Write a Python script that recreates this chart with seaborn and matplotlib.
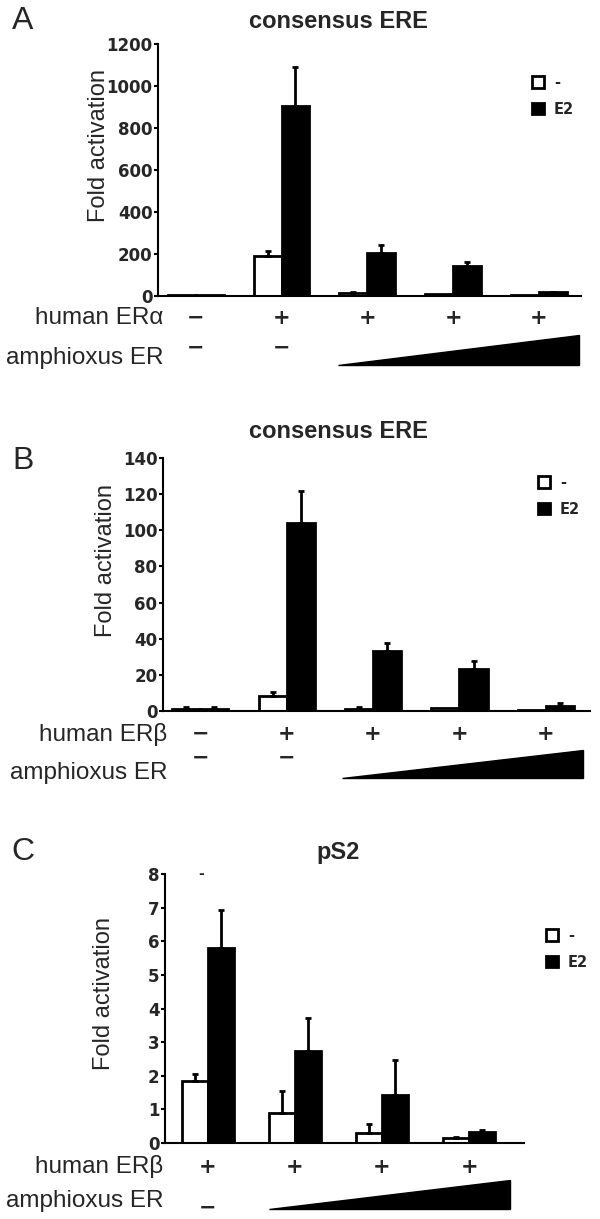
import matplotlib

matplotlib.use("Agg")
import matplotlib.pyplot as plt
import numpy as np
import pandas as pd
import seaborn as sns
from matplotlib.patches import Patch, Polygon
from matplotlib.transforms import blended_transform_factory

# ---- data -----------------------------------------------------------------
treatments = ["-", "E2"]

# A: consensus ERE, human ERalpha
a_groups = ["g1", "g2", "g3", "g4", "g5"]
a_ctrl = [3, 191, 16, 11, 5]
a_e2 = [3, 903, 206, 141, 17]
a_ctrl_err = [0, 24, 5, 0, 0]
a_e2_err = [0, 186, 39, 22, 3]
a_human = ["−", "+", "+", "+", "+"]
a_yticks = [0, 200, 400, 600, 800, 1000, 1200]

# B: consensus ERE, human ERbeta
b_groups = ["g1", "g2", "g3", "g4", "g5"]
b_ctrl = [1.3, 8.5, 0.9, 1.5, 0.5]
b_e2 = [1.3, 104, 33, 23, 3.0]
b_ctrl_err = [0.7, 2.0, 1.1, 0, 0]
b_e2_err = [0.7, 18, 4.6, 4.8, 1.3]
b_human = ["−", "+", "+", "+", "+"]
b_yticks = [0, 20, 40, 60, 80, 100, 120, 140]

# C: pS2, human ERbeta
c_groups = ["g1", "g2", "g3", "g4"]
c_ctrl = [1.83, 0.90, 0.30, 0.14]
c_e2 = [5.80, 2.75, 1.44, 0.34]
c_ctrl_err = [0.21, 0.64, 0.27, 0.04]
c_e2_err = [1.12, 0.96, 1.04, 0.06]
c_human = ["+", "+", "+", "+"]
c_yticks = [0, 1, 2, 3, 4, 5, 6, 7, 8]

# ---- figure ---------------------------------------------------------------
W, H = 600, 1219
sns.set_style("ticks")
plt.rcParams["font.family"] = ["Liberation Sans", "DejaVu Sans"]

fig = plt.figure(figsize=(W / 100, H / 100), dpi=100)


def fx(px):
    return px / W


def fy(px):
    return 1 - px / H


def draw_panel(letter, title, groups, ctrl, e2, ctrl_err, e2_err, yticks,
               box, xlim, width, human, human_label, amphi_minus, wedge, rows,
               title_y, letter_y, ylabel_xy, legend_xy):
    left, top, right, bottom = box
    ax = fig.add_axes([fx(left), fy(bottom), fx(right - left), (bottom - top) / H])

    n = len(groups)
    df = pd.DataFrame({
        "group": groups * 2,
        "treatment": ["-"] * n + ["E2"] * n,
        "value": list(ctrl) + list(e2),
    })
    sns.barplot(data=df, x="group", y="value", hue="treatment", order=groups,
                hue_order=treatments, palette={"-": "white", "E2": "black"},
                edgecolor="black", linewidth=2, width=width, errorbar=None,
                legend=False, ax=ax)

    # one-sided error bars on top of each bar
    for cont, errs in zip(ax.containers, [ctrl_err, e2_err]):
        for bar, err in zip(cont, errs):
            if err <= 0:
                continue
            x = bar.get_x() + bar.get_width() / 2
            y = bar.get_height()
            ax.errorbar(x, y, yerr=[[0], [err]], fmt="none", ecolor="black",
                        elinewidth=2, capsize=2.5, capthick=2, zorder=1)

    ax.set_xlim(*xlim)
    ax.set_ylim(yticks[0], yticks[-1])
    ax.set_yticks(yticks)
    ax.set_yticklabels([str(t) for t in yticks], fontweight="bold",
                       family="DejaVu Sans", fontsize=12)
    ax.tick_params(axis="y", length=3, width=1.5, pad=1, color="black")
    ax.set_xticks([])
    ax.set_xlabel("")
    ax.set_ylabel("")
    sns.despine(ax=ax)
    for side in ["left", "bottom"]:
        ax.spines[side].set_linewidth(1.5)
        ax.spines[side].set_color("black")

    trans = blended_transform_factory(ax.transData, fig.transFigure)
    human_y, amphi_label_y, amphi_minus_y, label_right = rows

    # sign rows under the axis
    for i, s in enumerate(human):
        ax.text(i, fy(human_y), s, transform=trans, ha="center", va="center",
                fontsize=15, fontweight="bold", family="DejaVu Sans")
    for i in amphi_minus:
        ax.text(i, fy(amphi_minus_y), "−", transform=trans, ha="center",
                va="center", fontsize=15, fontweight="bold", family="DejaVu Sans")
    fig.text(fx(label_right), fy(human_y), human_label, ha="right",
             va="center", fontsize=17.5)
    fig.text(fx(label_right), fy(amphi_label_y), "amphioxus ER", ha="right",
             va="center", fontsize=17.5)

    # increasing amphioxus ER wedge
    x0, x1, base, peak = wedge
    ax.add_patch(Polygon([(x0, fy(base)), (x1, fy(base)), (x1, fy(peak))],
                         closed=True, transform=trans, facecolor="black",
                         edgecolor="black", clip_on=False))

    fig.text(fx(338), fy(title_y), title, ha="center", va="center",
             fontsize=17, fontweight="bold")
    fig.text(fx(23), fy(letter_y), letter, ha="center", va="center",
             fontsize=23)
    fig.text(fx(ylabel_xy[0]), fy(ylabel_xy[1]), "Fold activation",
             rotation=90, ha="center", va="center", fontsize=17)

    handles = [Patch(facecolor="white", edgecolor="black", linewidth=2),
               Patch(facecolor="black", edgecolor="black", linewidth=2)]
    ax.legend(handles, treatments, loc="upper left",
              bbox_to_anchor=(fx(legend_xy[0]), fy(legend_xy[1])),
              bbox_transform=fig.transFigure, frameon=False,
              handlelength=0.8, handleheight=0.8, handletextpad=0.7,
              labelspacing=0.8, borderpad=0, borderaxespad=0,
              prop={"family": "DejaVu Sans", "weight": "bold", "size": 10.5})
    return ax


draw_panel("A", "consensus ERE", a_groups, a_ctrl, a_e2, a_ctrl_err, a_e2_err,
           a_yticks, box=(158, 44, 581, 296), xlim=(-0.44, 4.49), width=0.65,
           human=a_human, human_label="human ERα", amphi_minus=[0, 1],
           wedge=(1.66, 4.47, 365, 335), rows=(318, 358, 348, 163),
           title_y=21, letter_y=21, ylabel_xy=(99, 146), legend_xy=(532, 75))

draw_panel("B", "consensus ERE", b_groups, b_ctrl, b_e2, b_ctrl_err, b_e2_err,
           b_yticks, box=(163, 458, 590, 711), xlim=(-0.43, 4.51), width=0.65,
           human=b_human, human_label="human ERβ", amphi_minus=[0, 1],
           wedge=(1.64, 4.43, 778, 750), rows=(734, 773, 758, 167),
           title_y=432, letter_y=461, ylabel_xy=(106, 561), legend_xy=(538, 475))

draw_panel("C", "pS2", c_groups, c_ctrl, c_e2, c_ctrl_err, c_e2_err,
           c_yticks, box=(165, 874, 524, 1143), xlim=(-0.49, 3.63), width=0.6,
           human=c_human, human_label="human ERβ", amphi_minus=[0],
           wedge=(0.70, 3.47, 1209, 1180), rows=(1167, 1201, 1208, 163),
           title_y=853, letter_y=852, ylabel_xy=(104, 993), legend_xy=(546, 928))

# stray dash above the first pS2 group in the original figure
fig.text(fx(201), fy(874), "-", ha="center", va="center", fontsize=10,
         fontweight="bold", family="DejaVu Sans")

fig.savefig("out.png", dpi=100)
